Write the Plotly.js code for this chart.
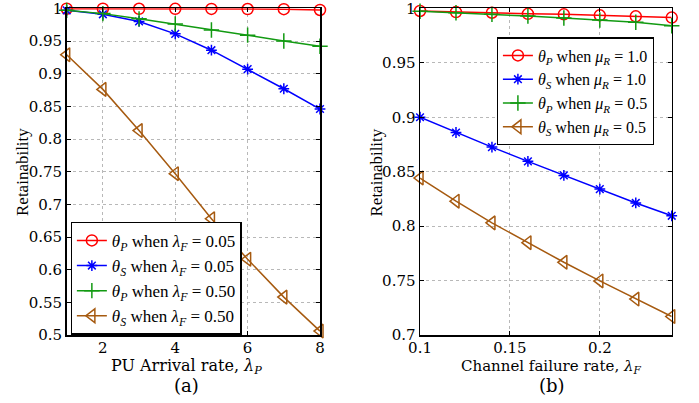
<!DOCTYPE html>
<html><head><meta charset="utf-8">
<script src="https://cdn.plot.ly/plotly-3.0.1.min.js"></script>
<style>body{margin:0;background:#fff}#c{width:699px;height:403px}</style>
</head><body><div id="c"></div>
<script>
// Panel (a): PU arrival rate
const lambdaP = [1, 2, 3, 4, 5, 6, 7, 8];
const a_thetaP_lf005 = [0.9995, 0.9995, 0.9994, 0.9993, 0.9992, 0.999, 0.9988, 0.9976];
const a_thetaS_lf005 = [0.997, 0.991, 0.980, 0.961, 0.936, 0.907, 0.877, 0.846];
const a_thetaP_lf050 = [0.997, 0.992, 0.984, 0.976, 0.967, 0.959, 0.950, 0.942];
const a_thetaS_lf050 = [0.929, 0.876, 0.813, 0.747, 0.678, 0.616, 0.558, 0.506];
// Panel (b): channel failure rate
const lambdaF = [0.10, 0.12, 0.14, 0.16, 0.18, 0.20, 0.22, 0.24];
const b_thetaP_mu10 = [0.9976, 0.9966, 0.996, 0.995, 0.9945, 0.9936, 0.9927, 0.9915];
const b_thetaS_mu10 = [0.900, 0.886, 0.8726, 0.8595, 0.8466, 0.834, 0.8213, 0.8095];
const b_thetaP_mu05 = [0.9973, 0.996, 0.9945, 0.993, 0.9912, 0.9893, 0.9872, 0.9841];
const b_thetaS_mu05 = [0.8442, 0.8229, 0.803, 0.7848, 0.7668, 0.7497, 0.733, 0.717];

const a_names = ['<i>θ<sub>P</sub></i> when <i>λ<sub>F</sub></i> = 0.05', '<i>θ<sub>S</sub></i> when <i>λ<sub>F</sub></i> = 0.05',
                 '<i>θ<sub>P</sub></i> when <i>λ<sub>F</sub></i> = 0.50', '<i>θ<sub>S</sub></i> when <i>λ<sub>F</sub></i> = 0.50'];
const b_names = ['<i>θ<sub>P</sub></i> when <i>μ<sub>R</sub></i> = 1.0', '<i>θ<sub>S</sub></i> when <i>μ<sub>R</sub></i> = 1.0',
                 '<i>θ<sub>P</sub></i> when <i>μ<sub>R</sub></i> = 0.5', '<i>θ<sub>S</sub></i> when <i>μ<sub>R</sub></i> = 0.5'];

const a_ytickvals = [0.5, 0.55, 0.6, 0.65, 0.7, 0.75, 0.8, 0.85, 0.9, 0.95, 1];
const a_yticktext = ['0.5', '0.55', '0.6', '0.65', '0.7', '0.75', '0.8', '0.85', '0.9', '0.95', '1'];
const a_xtickvals = [2, 4, 6, 8];
const b_ytickvals = [0.7, 0.75, 0.8, 0.85, 0.9, 0.95, 1];
const b_yticktext = ['0.7', '0.75', '0.8', '0.85', '0.9', '0.95', '1'];
const b_xtickvals = [0.1, 0.15, 0.2];
const b_xticktext = ['0.1', '0.15', '0.2'];

const a_xtitle = 'PU Arrival rate, <i>λ<sub>P</sub></i>';
const b_xtitle = 'Channel failure rate, <i>λ<sub>F</sub></i>';
const ytitle = 'Retainability';

const colors = ['#ff0000', '#0000ff', '#129a12', '#a65a10'];
const symbols = ['circle-open', 'asterisk-open', 'cross-thin-open', 'triangle-left-open'];
const sizes = [11, 9, 11, 12];

const TICKF = 'DejaVu Serif';
const SERIF = 'Liberation Serif';
const traces = [];
[a_thetaP_lf005, a_thetaS_lf005, a_thetaP_lf050, a_thetaS_lf050].forEach((y, i) => {
  traces.push({x: lambdaP, y: y, name: a_names[i], mode: 'lines+markers', xaxis: 'x', yaxis: 'y',
    legend: 'legend', legendgroup: 'a' + i, cliponaxis: false, line: {color: colors[i], width: 1.5},
    marker: {symbol: symbols[i], size: sizes[i], color: colors[i], line: {color: colors[i], width: 1.5}}});
});
[b_thetaP_mu10, b_thetaS_mu10, b_thetaP_mu05, b_thetaS_mu05].forEach((y, i) => {
  traces.push({x: lambdaF, y: y, name: b_names[i], mode: 'lines+markers', xaxis: 'x2', yaxis: 'y2',
    legend: 'legend2', legendgroup: 'b' + i, cliponaxis: false, line: {color: colors[i], width: 1.5},
    marker: {symbol: symbols[i], size: sizes[i], color: colors[i], line: {color: colors[i], width: 1.5}}});
});

const axBase = {showline: true, linecolor: '#000', linewidth: 1.5, mirror: 'ticks', ticks: 'inside', ticklen: 4,
  tickcolor: '#000', showgrid: true, gridcolor: '#b8b8b8', griddash: 'dot', gridwidth: 1, zeroline: false,
  ticklabeloverflow: 'allow', tickfont: {family: TICKF, size: 15, color: '#000'}};

const legBase = {bgcolor: '#fff', bordercolor: '#000', borderwidth: 1.2, xanchor: 'left', yanchor: 'top',
  font: {family: SERIF, size: 17, color: '#000'}};

const ann = (text, x, y, size, family, angle) => ({text: text, xref: 'paper', yref: 'paper', x: x / 699, y: 1 - y / 403,
  xanchor: 'center', yanchor: 'middle', showarrow: false, textangle: angle || 0, font: {family: family, size: size, color: '#000'}});

const layout = {
  width: 699, height: 403, margin: {l: 0, r: 0, t: 0, b: 0}, paper_bgcolor: '#fff', plot_bgcolor: '#fff',
  showlegend: true, font: {family: SERIF, color: '#000'},
  xaxis: Object.assign({}, axBase, {domain: [0.0954, 0.4578], range: [1, 8], tickvals: a_xtickvals, anchor: 'y', ticklabelstandoff: -2}),
  yaxis: Object.assign({}, axBase, {domain: [0.1687, 0.9795], range: [0.5, 1.0002], tickvals: a_ytickvals, ticktext: a_yticktext, anchor: 'x'}),
  xaxis2: Object.assign({}, axBase, {domain: [0.6009, 0.961], range: [0.1, 0.24], tickvals: b_xtickvals, ticktext: b_xticktext, anchor: 'y2', ticklabelstandoff: -2}),
  yaxis2: Object.assign({}, axBase, {domain: [0.1687, 0.9795], range: [0.7, 1.0001], tickvals: b_ytickvals, ticktext: b_yticktext, anchor: 'x2'}),
  legend: Object.assign({}, legBase, {x: 0.1011, y: 0.4499, tracegroupgap: 0}),
  legend2: Object.assign({}, legBase, {x: 0.7106, y: 0.9074, tracegroupgap: 0, font: {family: SERIF, size: 16, color: '#000'}}),
  annotations: [
    ann(a_xtitle, 186, 366, 16, TICKF),
    ann(b_xtitle, 551, 366, 15, TICKF),
    ann(ytitle, 22.5, 172.5, 17, SERIF, -90),
    ann(ytitle, 376, 172.5, 17, SERIF, -90),
    ann('(a)', 186, 385, 18, TICKF),
    ann('(b)', 552, 385, 18, TICKF)
  ]
};
Plotly.newPlot('c', traces, layout, {displayModeBar: false, staticPlot: true});
</script></body></html>
